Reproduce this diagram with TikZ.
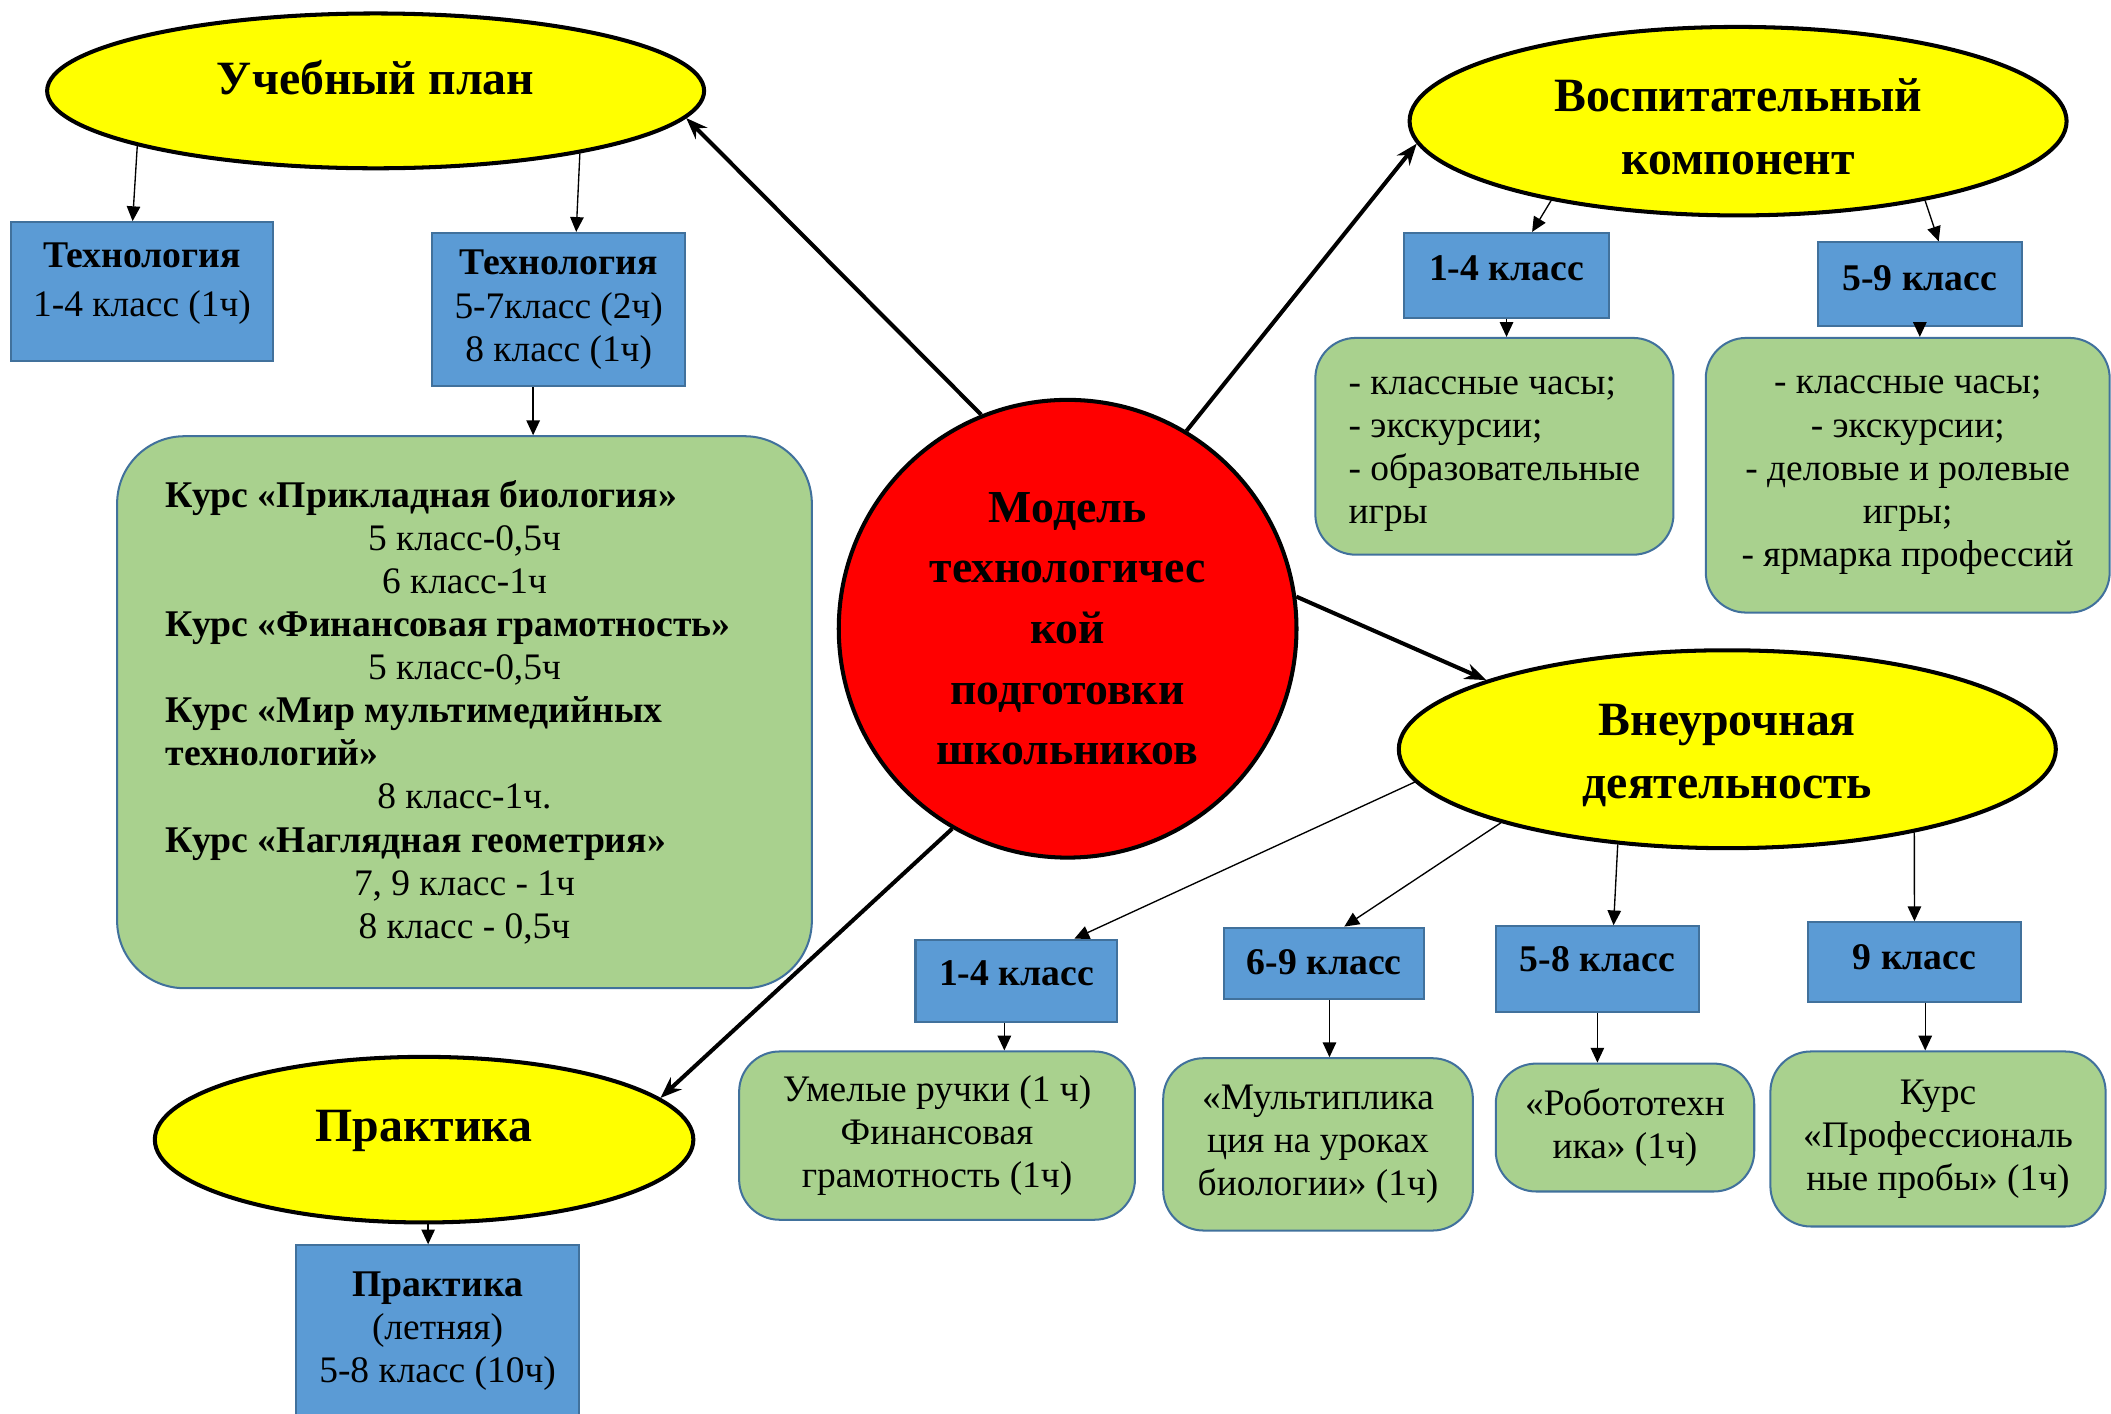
\documentclass[tikz,border=0pt]{standalone}
\usepackage{fontspec}
\setmainfont{Liberation Serif}
\usetikzlibrary{shapes.geometric,arrows.meta,calc}
\definecolor{yel}{HTML}{FFFF00}
\definecolor{redc}{HTML}{FF0000}
\definecolor{bfill}{HTML}{5B9BD5}
\definecolor{bborder}{HTML}{41719C}
\definecolor{gfill}{HTML}{A9D18E}
\begin{document}
\begin{tikzpicture}[x=1pt,y=-1pt,
  ell/.style={ellipse,draw=black,line width=3pt,fill=yel,inner sep=0pt},
  ttl/.style={font=\fontsize{35.5}{47}\selectfont\bfseries,align=center,inner sep=0pt},
  bbox/.style={rectangle,draw=bborder,line width=1.5pt,fill=bfill,inner sep=0pt,align=center,font=\fontsize{27.8}{32}\selectfont},
  hdr/.style={font=\fontsize{28}{32}\selectfont\bfseries,text height=19pt,text depth=#1},
  gbox/.style={rectangle,rounded corners=30pt,draw=bborder,line width=1.5pt,fill=gfill,inner sep=0pt,align=center,font=\fontsize{27.8}{32}\selectfont},
  thinarr/.style={-{Triangle[length=11pt,width=10pt]},line width=1pt},
  thickarr/.style={-{Stealth[length=16pt,width=12pt]},line width=3pt},
]
\useasboundingbox (0,0) rectangle (1568,1050);
\clip (0,0) rectangle (1568,1050);

% ---------- top-left: Учебный план ----------
\node[ell,minimum width=488pt,minimum height=115pt] (up) at (279,67.5) {};
\node[ttl] (upT) at (279,58) {Учебный план};
\node[bbox,minimum width=195pt,minimum height=103pt] (tech1) at (105.5,216.5)
  {\raisebox{0pt}[\height][\dimexpr\depth+12pt\relax]{\begin{tabular}{@{}c@{}}{\fontsize{28}{32}\selectfont\bfseries Технология}\\[4pt]1-4 класс (1ч)\end{tabular}}};
\node[bbox,minimum width=188pt,minimum height=114pt] (tech2) at (415,230)
  {{\fontsize{28}{32}\selectfont\bfseries Технология}\\5-7класс (2ч)\\8 класс (1ч)};
\node[gbox,rounded corners=50pt,minimum width=516pt,minimum height=410pt] (course) at (345,529)
  {\makebox[444pt][l]{\fontsize{28}{32}\selectfont\bfseries Курс «Прикладная биология»}\\5 класс-0,5ч\\6 класс-1ч\\
   \makebox[444pt][l]{\fontsize{28}{32}\selectfont\bfseries Курс «Финансовая грамотность»}\\5 класс-0,5ч\\
   \makebox[444pt][l]{\fontsize{28}{32}\selectfont\bfseries Курс «Мир мультимедийных}\\
   \makebox[444pt][l]{\fontsize{28}{32}\selectfont\bfseries технологий»}\\8 класс-1ч.\\
   \makebox[444pt][l]{\fontsize{28}{32}\selectfont\bfseries Курс «Наглядная геометрия»}\\7, 9 класс - 1ч\\8 класс - 0,5ч};

% ---------- centre ----------
\node[circle,draw=black,line width=3pt,fill=redc,minimum size=340pt,inner sep=0pt,
      align=center,font=\fontsize{34}{45}\selectfont\bfseries] (c) at (793,467)
  {Модель\\технологичес\\кой\\подготовки\\школьников};

% ---------- top-right: Воспитательный компонент ----------
\node[ell,minimum width=488pt,minimum height=140pt] (vos) at (1291,90) {};
\node[ttl] (vosT) at (1291,94) {Воспитательный\\компонент};
\node[bbox,minimum width=152pt,minimum height=63pt,hdr=12pt] (v14) at (1119,204.5) {1-4 класс};
\node[bbox,minimum width=152pt,minimum height=62pt,hdr=10pt] (v59) at (1426,211) {5-9 класс};
\node[gbox,minimum width=266pt,minimum height=161pt,align=left] (g14) at (1110,331.5)
  {\raisebox{0pt}[\dimexpr\height+6pt\relax][\depth]{\begin{tabular}{@{}l@{}}- классные часы;\\- экскурсии;\\- образовательные\\игры\end{tabular}}};
\node[gbox,minimum width=300pt,minimum height=204pt] (g59) at (1417,353)
  {- классные часы;\\- экскурсии;\\- деловые и ролевые\\игры;\\- ярмарка профессий};

% ---------- right: Внеурочная деятельность ----------
\node[ell,minimum width=488pt,minimum height=147pt] (vne) at (1283,556.5) {};
\node[ttl] (vneT) at (1283,561) {Внеурочная\\деятельность};
\node[bbox,minimum width=150pt,minimum height=61pt,hdr=12pt] (b14) at (755,728.5) {1-4 класс};
\node[bbox,minimum width=149pt,minimum height=53pt,hdr=3pt] (b69) at (983.5,715.5) {6-9 класс};
\node[bbox,minimum width=151pt,minimum height=64pt,hdr=16pt] (b58) at (1186.5,720) {5-8 класс};
\node[bbox,minimum width=158pt,minimum height=59pt,hdr=8pt] (b9) at (1422,714.5) {9 класс};
\node[gbox,minimum width=294pt,minimum height=125pt] (gb14) at (696,843.5)
  {Умелые ручки (1 ч)\\Финансовая\\грамотность (1ч)};
\node[gbox,minimum width=230pt,minimum height=128pt] (gb69) at (979,850)
  {«Мультиплика\\ция на уроках\\биологии» (1ч)};
\node[gbox,minimum width=192pt,minimum height=95pt] (gb58) at (1207,837.5)
  {«Робототехн\\ика» (1ч)};
\node[gbox,minimum width=249pt,minimum height=130pt] (gb9) at (1439.5,846)
  {Курс\\«Профессиональ\\ные пробы» (1ч)};

% ---------- bottom-left: Практика ----------
\node[ell,minimum width=400pt,minimum height=123pt] (prak) at (315,846.5) {};
\node[ttl] (prakT) at (315,840) {Практика};
\node[bbox,minimum width=210pt,minimum height=128pt] (pbox) at (325,989)
  {{\fontsize{28}{32}\selectfont\bfseries Практика}\\(летняя)\\5-8 класс (10ч)};

% ---------- thick connectors ----------
\draw[thickarr] (c.112.5) -- (up.-5.1);
\draw[thickarr] (c.59.3) -- (vos.-176.1);
\draw[thickarr] (c.8.9) -- (vne.164.7);
\draw[thickarr] (c.-120.7) -- (prak.10.4);

% ---------- helper points on box edges ----------
\coordinate (t1in) at ($(tech1.north)+(-7,0)$);
\coordinate (t2in) at ($(tech2.north)+(13,0)$);
\coordinate (t2out) at ($(tech2.south)+(-19,0)$);
\coordinate (v14in) at ($(v14.north)+(19,0)$);
\coordinate (v59in) at ($(v59.north)+(14,0)$);
\coordinate (b14in) at ($(b14.north)+(43,0)$);
\coordinate (b69in) at ($(b69.north)+(15,0)$);
\coordinate (b58in) at ($(b58.north)+(12,0)$);
\coordinate (b14out) at ($(b14.south)+(-9,0)$);
\coordinate (b69out) at ($(b69.south)+(4,0)$);
\coordinate (b9out) at ($(b9.south)+(8,0)$);
\coordinate (prout) at ($(prak.south)+(3,0)$);

% ---------- thin connectors ----------
\draw[thinarr] (up.-167.7) -- (t1in);
\draw[thinarr] (up.-17.6) -- (t2in);
\draw[thinarr] (t2out) -- (t2out |- course.north);

\draw[thinarr] (vos.-157.6) -- (v14in);
\draw[thinarr] (vos.-23.3) -- (v59in);
\draw[thinarr] (v14.south) -- (v14.south |- g14.north);
\draw[thinarr] (v59.south) -- (v59.south |- g59.north);

\draw[thinarr] (vne.-174.9) -- (b14in);
\draw[thinarr] (vne.-162.8) -- (b69in);
\draw[thinarr] (vne.-139) -- (b58in);
\draw[thinarr] (vne.-24.9) -- (b9.north);

\draw[thinarr] (b14out) -- (b14out |- gb14.north);
\draw[thinarr] (b69out) -- (b69out |- gb69.north);
\draw[thinarr] (b58.south) -- (b58.south |- gb58.north);
\draw[thinarr] (b9out) -- (b9out |- gb9.north);

\draw[thinarr] (prout) -- (prout |- pbox.north);
\end{tikzpicture}
\end{document}
